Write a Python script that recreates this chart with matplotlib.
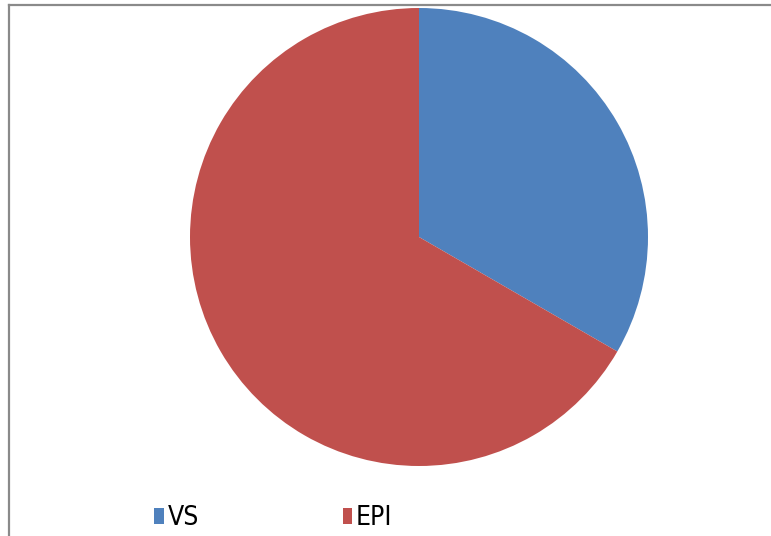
import matplotlib.pyplot as plt
from matplotlib.lines import Line2D

labels = ["VS", "EPI"]
values = [1, 2]
colors = ["#4F81BD", "#C0504D"]

W, H = 771, 536
fig = plt.figure(figsize=(W / 100, H / 100), dpi=100)

# pie area: centre (419, 237) px, radius 229 px
cx, cy, r = 419, 237, 229
ax = fig.add_axes([(cx - r) / W, (H - cy - r) / H, 2 * r / W, 2 * r / H])
wedges, _ = ax.pie(values, colors=colors, startangle=90, counterclock=False,
                   wedgeprops=dict(linewidth=0))
ax.set_xlim(-1, 1)
ax.set_ylim(-1, 1)
ax.set_aspect("equal")
ax.axis("off")

# outer chart frame (top and left edges visible)
fig.add_artist(Line2D([9 / W, 1], [1 - 4.5 / H, 1 - 4.5 / H], color="#8a8a8a", lw=1.6,
                      transform=fig.transFigure))
fig.add_artist(Line2D([9 / W, 9 / W], [0, 1 - 4.5 / H], color="#8a8a8a", lw=1.6,
                      transform=fig.transFigure))

leg = fig.legend(wedges, labels, ncol=2, loc="center left",
                 bbox_to_anchor=(154 / W, 18 / H), frameon=False,
                 prop={"family": "DejaVu Sans", "size": 19, "stretch": "condensed"},
                 handlelength=0.36, handleheight=0.55, handletextpad=0.15,
                 columnspacing=5.45, borderpad=0, borderaxespad=0)

fig.savefig("out.png", dpi=100)
